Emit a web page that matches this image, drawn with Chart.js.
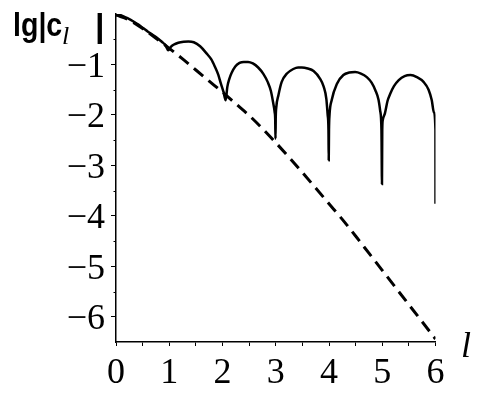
<!DOCTYPE html>
<html><head><meta charset="utf-8">
<script src="https://cdn.jsdelivr.net/npm/chart.js@4.4.0/dist/chart.umd.min.js"></script>
<style>html,body{margin:0;padding:0;background:#fff;}canvas{display:block;}</style>
</head><body>
<canvas id="c" width="490" height="401"></canvas>
<script>
// solid curve lg|c_l|
const solidL = [0,0.07,0.14,0.25,0.33,0.42,0.51,0.6,0.7,0.78,0.86,0.93,0.98,
  1.03,1.08,1.17,1.27,1.36,1.46,1.58,1.7,1.79,1.86,1.92,1.97,2.02,2.06,
  2.09,2.13,2.17,2.24,2.32,2.4,2.48,2.57,2.67,2.77,2.85,2.91,2.95,2.98,2.99,2.995,3.0,
  3.01,3.05,3.11,3.21,3.33,3.42,3.49,3.6,3.71,3.83,3.9,3.95,3.975,3.99,3.995,4.0,
  4.01,4.05,4.15,4.27,4.38,4.49,4.6,4.71,4.8,4.87,4.93,4.96,4.985,4.995,5.0,
  5.01,5.05,5.1,5.15,5.22,5.31,5.42,5.53,5.65,5.78,5.87,5.93,5.97,5.999,6.0];
const solidY = [-0.02,-0.02,-0.05,-0.10,-0.15,-0.21,-0.28,-0.35,-0.42,-0.48,-0.55,-0.62,-0.72,
  -0.65,-0.61,-0.57,-0.55,-0.545,-0.56,-0.64,-0.78,-0.90,-1.05,-1.20,-1.38,-1.55,-1.71,
  -1.45,-1.28,-1.17,-1.04,-0.97,-0.95,-0.95,-0.98,-1.06,-1.19,-1.35,-1.53,-1.75,-1.95,-2.1,-2.47,-2.05,
  -1.85,-1.61,-1.35,-1.18,-1.09,-1.06,-1.06,-1.08,-1.13,-1.28,-1.44,-1.68,-2.0,-2.3,-2.90,-2.3,
  -2.0,-1.71,-1.38,-1.21,-1.16,-1.15,-1.18,-1.25,-1.36,-1.51,-1.70,-1.91,-2.3,-3.37,-2.3,
  -2.1,-1.97,-1.72,-1.58,-1.43,-1.31,-1.23,-1.21,-1.25,-1.35,-1.50,-1.71,-1.95,-2.3,-3.76];
// dashed curve
const dashL = [0,0.25,0.5,0.75,1,1.25,1.5,1.75,2,2.25,2.5,2.75,3,3.25,3.5,3.75,4,4.25,4.5,4.75,5,5.25,5.5,5.75,6];
const dashY = [-0.02,-0.12,-0.29,-0.48,-0.68,-0.89,-1.11,-1.33,-1.55,-1.78,-2.01,-2.27,-2.55,-2.84,-3.14,-3.45,-3.76,-4.07,-4.40,-4.74,-5.08,-5.42,-5.76,-6.10,-6.44];
// tick labels
const xTickValues = [0,1,2,3,4,5,6];
const xTickLabels = ['0','1','2','3','4','5','6'];
const yTickValues = [-1,-2,-3,-4,-5,-6];
const yTickLabels = ['\u22121','\u22122','\u22123','\u22124','\u22125','\u22126'];
const yMinorValues = [-0.5,-1.5,-2.5,-3.5,-4.5,-5.5];
const yTitle = 'lg|c', yTitleSub = 'l', yTitleBar = '|', xTitle = 'l';

const toPts = (xs, ys) => xs.map((x, i) => ({x: x, y: ys[i]}));

const textPlugin = {
  id: 'texts',
  afterDraw(chart) {
    const ctx = chart.ctx;
    const ys = chart.scales.y;
    ctx.save();
    ctx.strokeStyle = '#000';
    ctx.lineWidth = 1;
    yMinorValues.forEach(v => {
      const p = Math.round(ys.getPixelForValue(v)) + 0.5;
      ctx.beginPath();
      ctx.moveTo(ys.right - 2.5, p);
      ctx.lineTo(ys.right, p);
      ctx.stroke();
    });
    ctx.fillStyle = '#000';
    ctx.textBaseline = 'alphabetic';
    ctx.textAlign = 'left';
    ctx.save();
    ctx.translate(13, 36);
    ctx.scale(0.84, 1);
    ctx.font = 'bold 34px Arial, "Liberation Sans", sans-serif';
    ctx.fillText(yTitle, 0, 0);
    ctx.restore();
    ctx.font = 'italic 26px "Liberation Serif", serif';
    ctx.fillText(yTitleSub, 62, 44);
    ctx.font = 'bold 34px Arial, "Liberation Sans", sans-serif';
    ctx.fillText(yTitleBar, 95, 37);
    ctx.font = 'italic 36px "Liberation Serif", serif';
    ctx.fillText(xTitle, 461, 357);
    ctx.restore();
  }
};

new Chart(document.getElementById('c'), {
  type: 'scatter',
  data: {
    datasets: [
      {
        data: toPts(solidL, solidY),
        showLine: true,
        borderColor: '#000',
        borderWidth: 2.5,
        pointRadius: 0,
        cubicInterpolationMode: 'monotone',
        fill: false
      },
      {
        data: toPts(dashL, dashY),
        showLine: true,
        borderColor: '#000',
        borderWidth: 3,
        borderDash: [12, 7],
        pointRadius: 0,
        cubicInterpolationMode: 'monotone',
        fill: false
      }
    ]
  },
  options: {
    responsive: false,
    animation: false,
    devicePixelRatio: 1,
    layout: { padding: { top: 14, right: 54.5, left: 0, bottom: 0 } },
    plugins: { legend: { display: false }, tooltip: { enabled: false } },
    scales: {
      x: {
        type: 'linear',
        position: 'bottom',
        min: 0, max: 6,
        afterFit: s => { s.height = 59; s.paddingLeft = 0; s.paddingRight = 0; },
        border: { display: true, color: '#000', width: 1.5 },
        grid: { drawOnChartArea: false, drawTicks: true, tickLength: 4, color: '#000', tickColor: '#000' },
        ticks: {
          stepSize: 0.5,
          autoSkip: false,
          maxRotation: 0,
          padding: 6,
          color: '#000',
          font: { family: '"Liberation Serif", serif', size: 36 },
          callback: v => { const i = xTickValues.indexOf(v); return i >= 0 ? xTickLabels[i] : ''; }
        }
      },
      y: {
        type: 'linear',
        min: -6.5, max: 0,
        afterFit: s => { s.width = 116; s.paddingTop = 0; s.paddingBottom = 0; },
        border: { display: true, color: '#000', width: 1.5 },
        grid: {
          drawOnChartArea: false, drawTicks: true, tickLength: 5, color: '#000',
          tickColor: c => (c.tick && yTickValues.indexOf(c.tick.value) >= 0) ? '#000' : 'rgba(0,0,0,0)'
        },
        ticks: {
          stepSize: 0.5,
          autoSkip: false,
          padding: 6,
          labelOffset: 3,
          color: '#000',
          font: { family: '"Liberation Serif", serif', size: 36 },
          callback: v => { const i = yTickValues.indexOf(v); return i >= 0 ? yTickLabels[i] : ''; }
        }
      }
    }
  },
  plugins: [textPlugin]
});
</script>
</body></html>
